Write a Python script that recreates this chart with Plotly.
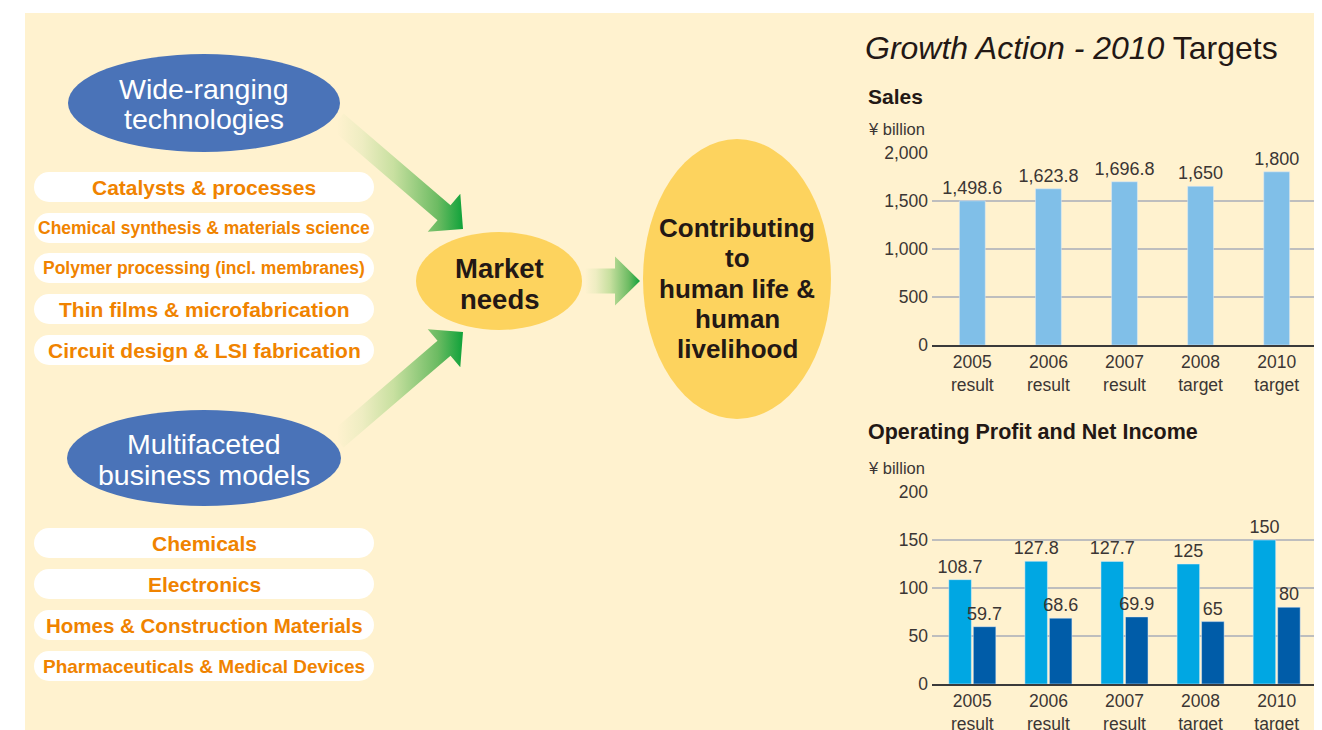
import numpy as np
import plotly.graph_objects as go

W, H = 1322, 730          # browser window
OFF = 8                   # default page margin around the plot div
FW, FH = W - OFF + 16, H - OFF + 12   # slightly larger than the window so no page background shows

# ---------------- data ----------------
years = ["2005<br>result", "2006<br>result", "2007<br>result", "2008<br>target", "2010<br>target"]
sales = [1498.6, 1623.8, 1696.8, 1650, 1800]
op_profit = [108.7, 127.8, 127.7, 125, 150]
net_income = [59.7, 68.6, 69.9, 65, 80]
sales_ticks = [0, 500, 1000, 1500, 2000]
sales_grid = [500, 1000, 1500]
profit_ticks = [0, 50, 100, 150, 200]
profit_grid = [50, 100, 150]

tech_items = ["Catalysts & processes",
              "Chemical synthesis & materials science",
              "Polymer processing (incl. membranes)",
              "Thin films & microfabrication",
              "Circuit design & LSI fabrication"]
business_items = ["Chemicals", "Electronics",
                  "Homes & Construction Materials",
                  "Pharmaceuticals & Medical Devices"]
tech_title = ["Wide-ranging", "technologies"]
business_title = ["Multifaceted", "business models"]
market_text = ["Market", "needs"]
goal_text = ["Contributing", "to", "human life &", "human", "livelihood"]

# ---------------- styles ----------------
FONT = "Liberation Sans, Arial, Helvetica, sans-serif"
BG = "#FFF2CF"
DARK = "#231815"
TICK = "#3b3634"
ORANGE = "#F08300"
BLUE_ELL = "#4A73B8"
YEL_ELL = "#FDD35E"
SALES_C = "#80BFE8"
OP_C = "#00A7E3"
NI_C = "#005CA8"
GRID = "#BEBEBE"

tech_sizes = [21, 17.5, 17.5, 21, 21]
tech_y = [187, 228, 268, 309, 350]
bus_sizes = [21, 21, 20.5, 19]
bus_y = [543, 584, 625, 666]

fig = go.Figure()
shapes = []
ann = []

# white page margins (yellow panel starts at x=25, y=13)
shapes.append(dict(type="rect", xref="x", yref="y", x0=0, x1=25, y0=0, y1=OFF + FH,
                   fillcolor="white", line=dict(width=0), layer="below"))
shapes.append(dict(type="rect", xref="x", yref="y", x0=0, x1=OFF + FW, y0=0, y1=13,
                   fillcolor="white", line=dict(width=0), layer="below"))

# pills
def pill(cx, cy, w, h):
    r = h / 2
    out = [dict(type="rect", xref="x", yref="y", x0=cx - w / 2 + r, x1=cx + w / 2 - r,
                y0=cy - r, y1=cy + r, fillcolor="white", line=dict(width=0), layer="below")]
    for ccx in (cx - w / 2 + r, cx + w / 2 - r):
        out.append(dict(type="circle", xref="x", yref="y", x0=ccx - r, x1=ccx + r,
                        y0=cy - r, y1=cy + r, fillcolor="white", line=dict(width=0), layer="below"))
    return out

for txt, y, s in zip(tech_items, tech_y, tech_sizes):
    shapes += pill(204, y, 340, 30)
    ann.append(dict(x=204, y=y, text="<b>" + txt + "</b>", showarrow=False,
                    font=dict(family=FONT, size=s, color=ORANGE), xanchor="center", yanchor="middle"))
for txt, y, s in zip(business_items, bus_y, bus_sizes):
    shapes += pill(204, y, 340, 30)
    ann.append(dict(x=204, y=y, text="<b>" + txt + "</b>", showarrow=False,
                    font=dict(family=FONT, size=s, color=ORANGE), xanchor="center", yanchor="middle"))

# ellipses
def ellipse(cx, cy, rx, ry, col):
    return dict(type="circle", xref="x", yref="y", x0=cx - rx, x1=cx + rx, y0=cy - ry, y1=cy + ry,
                fillcolor=col, line=dict(width=0), layer="below")

shapes.append(ellipse(204, 103, 136, 49, BLUE_ELL))
shapes.append(ellipse(204, 458, 137, 48, BLUE_ELL))
shapes.append(ellipse(499, 281, 83, 49, YEL_ELL))
shapes.append(ellipse(737, 279, 94, 140, YEL_ELL))

for txt, y in zip(tech_title, [89, 119]):
    ann.append(dict(x=204, y=y, text=txt, showarrow=False,
                    font=dict(family=FONT, size=28.5, color="white"), xanchor="center", yanchor="middle"))
for txt, y in zip(business_title, [444, 475]):
    ann.append(dict(x=204, y=y, text=txt, showarrow=False,
                    font=dict(family=FONT, size=28.5, color="white"), xanchor="center", yanchor="middle"))
for txt, y in zip(market_text, [268, 299]):
    ann.append(dict(x=499, y=y, text="<b>" + txt + "</b>", showarrow=False,
                    font=dict(family=FONT, size=27.5, color=DARK), xanchor="center", yanchor="middle"))
for i, txt in enumerate(goal_text):
    ann.append(dict(x=737, y=228 + i * 30.3, text="<b>" + txt + "</b>", showarrow=False,
                    font=dict(family=FONT, size=26, color=DARK), xanchor="center", yanchor="middle"))

# arrows with gradient
def arrow_poly(tail, tip, shaft_hw, head_hw, head_len):
    tail = np.array(tail, float); tip = np.array(tip, float)
    d = tip - tail
    u = d / np.linalg.norm(d)
    n = np.array([-u[1], u[0]])
    base = tip - u * head_len
    pts = [tail + n * shaft_hw, base + n * shaft_hw, base + n * head_hw, tip,
           base - n * head_hw, base - n * shaft_hw, tail - n * shaft_hw, tail + n * shaft_hw]
    return [p[0] for p in pts], [p[1] for p in pts]

grad = [[0.0, "rgba(255,242,207,1)"], [0.2, "#EEEDC2"], [0.45, "#C8E0A0"],
        [0.8, "#6CBB62"], [1.0, "#0FA23A"]]
for tail, tip, shw, hhw, hl in [((337, 121), (463, 229), 10, 25, 25),
                                ((337, 440), (463, 332), 10, 25, 25),
                                ((585, 281), (640, 281), 12.5, 24.5, 25)]:
    xs, ys = arrow_poly(tail, tip, shw, hhw, hl)
    fig.add_trace(go.Scatter(x=xs, y=ys, mode="lines", fill="toself", line=dict(width=0),
                             fillgradient=dict(type="horizontal", colorscale=grad,
                                               start=tail[0], stop=max(xs)),
                             hoverinfo="skip", showlegend=False, xaxis="x", yaxis="y"))

# headings
ann.append(dict(x=863, y=48, text="<i>Growth Action - 2010</i> Targets", showarrow=False,
                font=dict(family=FONT, size=32, color=DARK), xanchor="left", yanchor="middle"))
ann.append(dict(x=866, y=96, text="<b>Sales</b>", showarrow=False,
                font=dict(family=FONT, size=21, color=DARK), xanchor="left", yanchor="middle"))
ann.append(dict(x=866, y=129, text="¥ billion", showarrow=False,
                font=dict(family=FONT, size=16.5, color=TICK), xanchor="left", yanchor="middle"))
ann.append(dict(x=866, y=432, text="<b>Operating Profit and Net Income</b>", showarrow=False,
                font=dict(family=FONT, size=21.5, color=DARK), xanchor="left", yanchor="middle"))
ann.append(dict(x=866, y=468, text="¥ billion", showarrow=False,
                font=dict(family=FONT, size=16.5, color=TICK), xanchor="left", yanchor="middle"))
for a in ann:
    a.setdefault("xref", "x"); a.setdefault("yref", "y")

# ---------------- bar charts ----------------
fig.add_trace(go.Bar(x=years, y=sales, marker_color=SALES_C, width=0.34,
                     texttemplate="%{y:,}", textposition="outside", constraintext="none",
                     cliponaxis=False, textfont=dict(family=FONT, size=18, color=TICK),
                     xaxis="x2", yaxis="y2", showlegend=False))
fig.add_trace(go.Bar(x=years, y=op_profit, marker_color=OP_C, name="Operating profit",
                     texttemplate="%{y}", textposition="outside", constraintext="none",
                     cliponaxis=False, textfont=dict(family=FONT, size=18, color=TICK),
                     xaxis="x3", yaxis="y3", showlegend=False))
fig.add_trace(go.Bar(x=years, y=net_income, marker_color=NI_C, name="Net income",
                     texttemplate="%{y}", textposition="outside", constraintext="none",
                     cliponaxis=False, textfont=dict(family=FONT, size=18, color=TICK),
                     xaxis="x3", yaxis="y3", showlegend=False))

def px_x(p):
    return (p - OFF) / FW

def px_y(p):
    return 1 - (p - OFF) / FH

s_top, s_bot = 146, 345
p_top, p_bot = 492, 684
sales_max = 2000 * (s_bot - s_top) / (s_bot - 152.6)

for ref in ("2", "3"):
    shapes.append(dict(type="rect", xref=f"x{ref} domain", yref=f"y{ref} domain", x0=0, x1=1, y0=0, y1=1,
                       fillcolor="white", line=dict(width=0), layer="below"))

xax_common = dict(showgrid=False, zeroline=False, showline=True, linecolor="#3a3a3a", linewidth=1.5,
                  ticks="", tickfont=dict(family=FONT, size=17.5, color=TICK),
                  range=[-0.53, 4.53], fixedrange=True, automargin=False)
yax_common = dict(showgrid=False, zeroline=False, showline=False, ticks="",
                  tickfont=dict(family=FONT, size=17.5, color=TICK), tickformat=",",
                  ticklabelstandoff=3, fixedrange=True, automargin=False)

fig.update_layout(
    width=FW, height=FH, autosize=False,
    margin=dict(l=0, r=0, t=0, b=0, pad=0),
    paper_bgcolor=BG, plot_bgcolor=BG,
    font=dict(family=FONT, color=DARK),
    barmode="group", bargap=0.356, bargroupgap=0.08,
    showlegend=False,
    shapes=shapes, annotations=ann,
    xaxis=dict(domain=[0, 1], range=[OFF, OFF + FW], visible=False, fixedrange=True, automargin=False),
    yaxis=dict(domain=[0, 1], range=[OFF + FH, OFF], visible=False, fixedrange=True, automargin=False),
    xaxis2=dict(domain=[px_x(932), px_x(1317)], anchor="y2", **xax_common),
    yaxis2=dict(domain=[px_y(s_bot), px_y(s_top)], anchor="x2", range=[0, sales_max],
                tickmode="array", tickvals=sales_ticks,
                minor=dict(tickmode="array", tickvals=sales_grid, showgrid=True,
                           gridcolor=GRID, gridwidth=1.5, ticks=""),
                **yax_common),
    xaxis3=dict(domain=[px_x(932), px_x(1317)], anchor="y3", **xax_common),
    yaxis3=dict(domain=[px_y(p_bot), px_y(p_top)], anchor="x3", range=[0, 200],
                tickmode="array", tickvals=profit_ticks,
                minor=dict(tickmode="array", tickvals=profit_grid, showgrid=True,
                           gridcolor=GRID, gridwidth=1.5, ticks=""),
                **yax_common),
)

fig.write_html("out.html",
               post_script="document.documentElement.style.overflow='hidden';"
                           "document.body.style.overflow='hidden';")
